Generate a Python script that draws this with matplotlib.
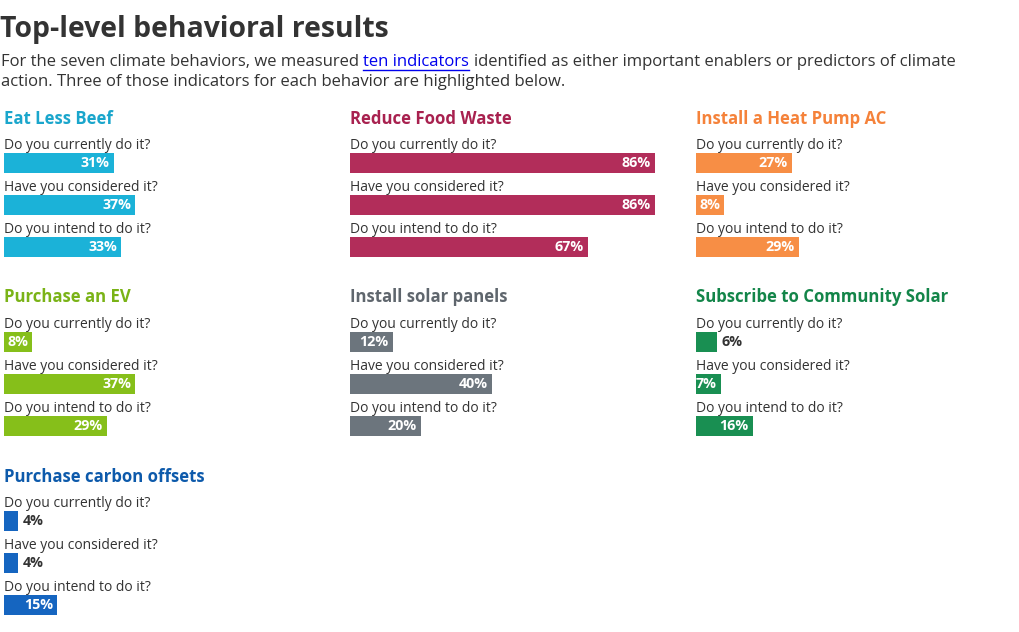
import matplotlib
matplotlib.use("Agg")
import matplotlib.pyplot as plt
from matplotlib.lines import Line2D

plt.rcParams["font.family"] = ["Open Sans", "DejaVu Sans"]

behaviors = ["Eat Less Beef", "Reduce Food Waste", "Install a Heat Pump AC",
             "Purchase an EV", "Install solar panels", "Subscribe to Community Solar",
             "Purchase carbon offsets"]
currently = [31, 86, 27, 8, 12, 6, 4]
considered = [37, 86, 8, 37, 40, 7, 4]
intend = [33, 67, 29, 29, 20, 16, 15]
questions = ["Do you currently do it?", "Have you considered it?", "Do you intend to do it?"]
bar_colors = ["#1bb2d8", "#b22d5a", "#f78e45", "#86bf1a", "#6c757d", "#198f52", "#1565c0"]
title_colors = ["#1aa6cc", "#a8214f", "#f5823a", "#7ab317", "#5f666d", "#138549", "#0d5aab"]

TEXT = "#333333"
W, H = 1020, 632
fig = plt.figure(figsize=(W / 100, H / 100), dpi=100)


def fx(px):
    return px / W


def fy(py):
    return 1 - py / H


fig.text(fx(0), fy(29), "Top-level behavioral results", fontsize=20.4,
         fontweight="bold", color=TEXT, va="center")

# subtitle, with the link drawn in blue and underlined
renderer = fig.canvas.get_renderer()
sub_size = 12.0


def width_px(s):
    t = fig.text(0, 0, s, fontsize=sub_size)
    w = t.get_window_extent(renderer).width
    t.remove()
    return w


space = width_px("a a") - width_px("aa")
pieces = [("For the seven climate behaviors, we measured", TEXT),
          ("ten indicators", "#0000ee"),
          ("identified as either important enablers or predictors of climate", TEXT)]
x = 1
for s, c in pieces:
    t = fig.text(fx(x), fy(62), s, fontsize=sub_size, color=c, va="center")
    ext = t.get_window_extent(renderer)
    if c != TEXT:
        fig.add_artist(Line2D([fx(x), fx(x + ext.width)], [fy(70), fy(70)],
                              color=c, lw=1.0, transform=fig.transFigure))
    x += ext.width + space
fig.text(fx(1), fy(82), "action. Three of those indicators for each behavior are highlighted below.",
         fontsize=sub_size, color=TEXT, va="center")

for i, name in enumerate(behaviors):
    col, row = i % 3, i // 3
    x0 = 4 + col * 346
    ty = 117 + row * 179
    ax = fig.add_axes([fx(x0), fy(ty + 140), fx(355), 152 / H])
    ax.set_xlim(0, 100)
    ax.set_ylim(140, -12)
    ax.axis("off")
    vals = [currently[i], considered[i], intend[i]]
    ypos = [46, 88, 130]
    ax.barh(ypos, vals, height=20, color=bar_colors[i], linewidth=0)
    ax.text(0, 1.5, name, fontsize=12.1, fontweight="bold", color=title_colors[i], va="center")
    for q, y, v in zip(questions, ypos, vals):
        ax.text(0, y - 17.5, q, fontsize=10.0, color=TEXT, va="center")
        if v >= 7:
            ax.annotate(f"{v}%", (v, y), xytext=(-3, 0), textcoords="offset points",
                        ha="right", va="center", fontsize=10.3, fontweight="bold", color="white")
        else:
            ax.annotate(f"{v}%", (v, y), xytext=(3, 0), textcoords="offset points",
                        ha="left", va="center", fontsize=10.3, fontweight="bold", color=TEXT)

fig.savefig("out.png", dpi=100, facecolor="white")
